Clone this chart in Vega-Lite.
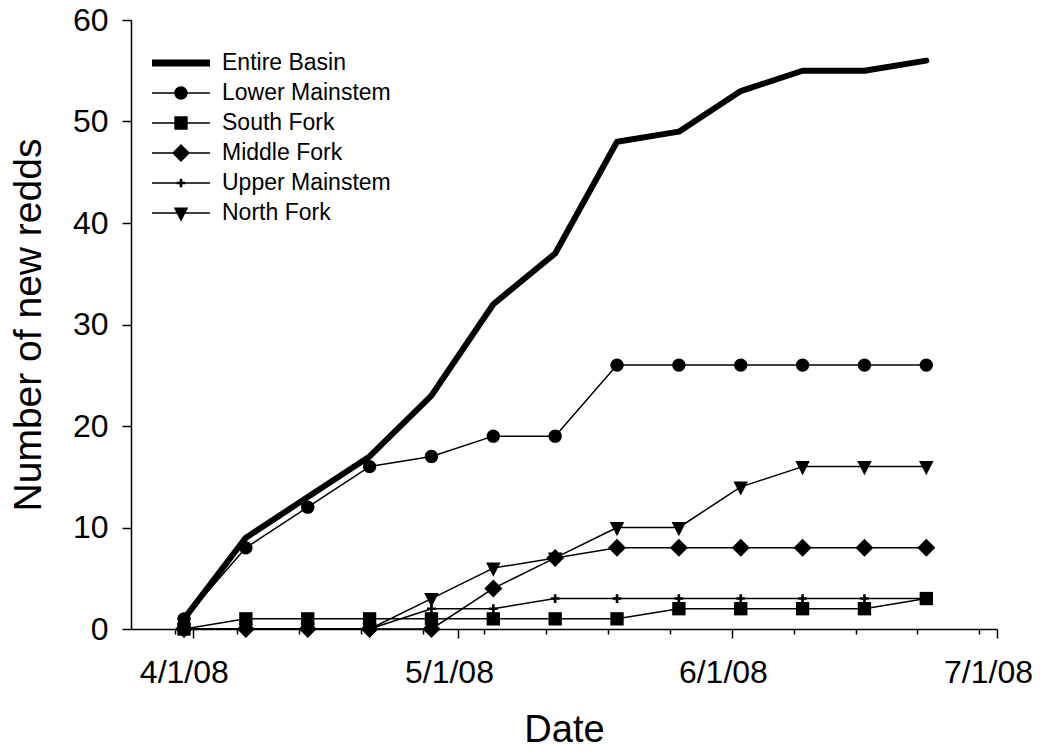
{
  "$schema": "https://vega.github.io/schema/vega-lite/v6.json",
  "width": 866,
  "height": 609,
  "autosize": {"type": "none"},
  "padding": {"left": 131, "top": 20, "right": 44, "bottom": 122},
  "background": "white",
  "config": {
    "view": {"stroke": null},
    "font": "Liberation Sans",
    "axis": {"labelFont": "Liberation Sans", "titleFont": "Liberation Sans", "labelColor": "black", "titleColor": "black", "domainColor": "black", "tickColor": "black", "titleFontWeight": "normal", "grid": false, "domainWidth": 1.5, "tickWidth": 1.5},
    "legend": {"labelFont": "Liberation Sans", "labelColor": "black"}
  },
  "data": {
    "values": [
      {"date": "2008-03-31", "series": "Entire Basin", "value": 1},
      {"date": "2008-04-07", "series": "Entire Basin", "value": 9},
      {"date": "2008-04-14", "series": "Entire Basin", "value": 13},
      {"date": "2008-04-21", "series": "Entire Basin", "value": 17},
      {"date": "2008-04-28", "series": "Entire Basin", "value": 23},
      {"date": "2008-05-05", "series": "Entire Basin", "value": 32},
      {"date": "2008-05-12", "series": "Entire Basin", "value": 37},
      {"date": "2008-05-19", "series": "Entire Basin", "value": 48},
      {"date": "2008-05-26", "series": "Entire Basin", "value": 49},
      {"date": "2008-06-02", "series": "Entire Basin", "value": 53},
      {"date": "2008-06-09", "series": "Entire Basin", "value": 55},
      {"date": "2008-06-16", "series": "Entire Basin", "value": 55},
      {"date": "2008-06-23", "series": "Entire Basin", "value": 56},
      {"date": "2008-03-31", "series": "Lower Mainstem", "value": 1},
      {"date": "2008-04-07", "series": "Lower Mainstem", "value": 8},
      {"date": "2008-04-14", "series": "Lower Mainstem", "value": 12},
      {"date": "2008-04-21", "series": "Lower Mainstem", "value": 16},
      {"date": "2008-04-28", "series": "Lower Mainstem", "value": 17},
      {"date": "2008-05-05", "series": "Lower Mainstem", "value": 19},
      {"date": "2008-05-12", "series": "Lower Mainstem", "value": 19},
      {"date": "2008-05-19", "series": "Lower Mainstem", "value": 26},
      {"date": "2008-05-26", "series": "Lower Mainstem", "value": 26},
      {"date": "2008-06-02", "series": "Lower Mainstem", "value": 26},
      {"date": "2008-06-09", "series": "Lower Mainstem", "value": 26},
      {"date": "2008-06-16", "series": "Lower Mainstem", "value": 26},
      {"date": "2008-06-23", "series": "Lower Mainstem", "value": 26},
      {"date": "2008-03-31", "series": "South Fork", "value": 0},
      {"date": "2008-04-07", "series": "South Fork", "value": 1},
      {"date": "2008-04-14", "series": "South Fork", "value": 1},
      {"date": "2008-04-21", "series": "South Fork", "value": 1},
      {"date": "2008-04-28", "series": "South Fork", "value": 1},
      {"date": "2008-05-05", "series": "South Fork", "value": 1},
      {"date": "2008-05-12", "series": "South Fork", "value": 1},
      {"date": "2008-05-19", "series": "South Fork", "value": 1},
      {"date": "2008-05-26", "series": "South Fork", "value": 2},
      {"date": "2008-06-02", "series": "South Fork", "value": 2},
      {"date": "2008-06-09", "series": "South Fork", "value": 2},
      {"date": "2008-06-16", "series": "South Fork", "value": 2},
      {"date": "2008-06-23", "series": "South Fork", "value": 3},
      {"date": "2008-03-31", "series": "Middle Fork", "value": 0},
      {"date": "2008-04-07", "series": "Middle Fork", "value": 0},
      {"date": "2008-04-14", "series": "Middle Fork", "value": 0},
      {"date": "2008-04-21", "series": "Middle Fork", "value": 0},
      {"date": "2008-04-28", "series": "Middle Fork", "value": 0},
      {"date": "2008-05-05", "series": "Middle Fork", "value": 4},
      {"date": "2008-05-12", "series": "Middle Fork", "value": 7},
      {"date": "2008-05-19", "series": "Middle Fork", "value": 8},
      {"date": "2008-05-26", "series": "Middle Fork", "value": 8},
      {"date": "2008-06-02", "series": "Middle Fork", "value": 8},
      {"date": "2008-06-09", "series": "Middle Fork", "value": 8},
      {"date": "2008-06-16", "series": "Middle Fork", "value": 8},
      {"date": "2008-06-23", "series": "Middle Fork", "value": 8},
      {"date": "2008-03-31", "series": "Upper Mainstem", "value": 0},
      {"date": "2008-04-07", "series": "Upper Mainstem", "value": 0},
      {"date": "2008-04-14", "series": "Upper Mainstem", "value": 0},
      {"date": "2008-04-21", "series": "Upper Mainstem", "value": 0},
      {"date": "2008-04-28", "series": "Upper Mainstem", "value": 2},
      {"date": "2008-05-05", "series": "Upper Mainstem", "value": 2},
      {"date": "2008-05-12", "series": "Upper Mainstem", "value": 3},
      {"date": "2008-05-19", "series": "Upper Mainstem", "value": 3},
      {"date": "2008-05-26", "series": "Upper Mainstem", "value": 3},
      {"date": "2008-06-02", "series": "Upper Mainstem", "value": 3},
      {"date": "2008-06-09", "series": "Upper Mainstem", "value": 3},
      {"date": "2008-06-16", "series": "Upper Mainstem", "value": 3},
      {"date": "2008-06-23", "series": "Upper Mainstem", "value": 3},
      {"date": "2008-03-31", "series": "North Fork", "value": 0},
      {"date": "2008-04-07", "series": "North Fork", "value": 0},
      {"date": "2008-04-14", "series": "North Fork", "value": 0},
      {"date": "2008-04-21", "series": "North Fork", "value": 0},
      {"date": "2008-04-28", "series": "North Fork", "value": 3},
      {"date": "2008-05-05", "series": "North Fork", "value": 6},
      {"date": "2008-05-12", "series": "North Fork", "value": 7},
      {"date": "2008-05-19", "series": "North Fork", "value": 10},
      {"date": "2008-05-26", "series": "North Fork", "value": 10},
      {"date": "2008-06-02", "series": "North Fork", "value": 14},
      {"date": "2008-06-09", "series": "North Fork", "value": 16},
      {"date": "2008-06-16", "series": "North Fork", "value": 16},
      {"date": "2008-06-23", "series": "North Fork", "value": 16}
    ],
    "format": {"parse": {"date": "date:'%Y-%m-%d'"}}
  },
  "encoding": {
    "x": {
      "field": "date",
      "type": "temporal",
      "scale": {"domain": [{"year": 2008, "month": 3, "date": 25}, {"year": 2008, "month": 7, "date": 1}], "nice": false},
      "axis": {
        "title": "Date",
        "titleFontSize": 38,
        "titlePadding": 23,
        "labelFontSize": 32,
        "labelPadding": 19,
        "labelOffset": -9,
        "labelFlush": false,
        "labelOverlap": false,
        "values": [
          {"year": 2008, "month": 3, "date": 30},
          {"year": 2008, "month": 4, "date": 1},
          {"year": 2008, "month": 4, "date": 6},
          {"year": 2008, "month": 4, "date": 13},
          {"year": 2008, "month": 4, "date": 20},
          {"year": 2008, "month": 4, "date": 27},
          {"year": 2008, "month": 5, "date": 1},
          {"year": 2008, "month": 5, "date": 4},
          {"year": 2008, "month": 5, "date": 11},
          {"year": 2008, "month": 5, "date": 18},
          {"year": 2008, "month": 5, "date": 25},
          {"year": 2008, "month": 6, "date": 1},
          {"year": 2008, "month": 6, "date": 8},
          {"year": 2008, "month": 6, "date": 15},
          {"year": 2008, "month": 6, "date": 22},
          {"year": 2008, "month": 6, "date": 29},
          {"year": 2008, "month": 7, "date": 1}
        ],
        "labelExpr": "date(datum.value) == 1 ? timeFormat(datum.value, '%-m/%-d/%y') : ''",
        "tickSize": {"condition": {"test": "date(datum.value) == 1", "value": 9}, "value": 5}
      }
    },
    "y": {
      "field": "value",
      "type": "quantitative",
      "scale": {"domain": [0, 60], "nice": false},
      "axis": {
        "title": "Number of new redds",
        "titleFontSize": 39,
        "titlePadding": 24,
        "labelFontSize": 32,
        "labelPadding": 14,
        "values": [0, 10, 20, 30, 40, 50, 60],
        "tickSize": 9
      }
    }
  },
  "layer": [
    {
      "mark": {"type": "line", "color": "black", "strokeCap": "round", "strokeJoin": "round"},
      "encoding": {
        "detail": {"field": "series"},
        "strokeWidth": {
          "field": "series",
          "scale": {"type": "ordinal", "domain": ["Entire Basin", "Lower Mainstem", "South Fork", "Middle Fork", "Upper Mainstem", "North Fork"], "range": [6, 1.5, 1.5, 1.5, 1.5, 1.5]},
          "legend": null
        }
      }
    },
    {
      "transform": [{"filter": "datum.series != 'Entire Basin'"}],
      "mark": {"type": "point", "filled": true, "color": "black", "size": 3364, "opacity": 1},
      "encoding": {
        "shape": {
          "field": "series",
          "scale": {
            "domain": ["Lower Mainstem", "South Fork", "Middle Fork", "Upper Mainstem", "North Fork"],
            "range": [
              "M0.23,0C0.23,0.127 0.127,0.23 0,0.23C-0.127,0.23 -0.23,0.127 -0.23,0C-0.23,-0.127 -0.127,-0.23 0,-0.23C0.127,-0.23 0.23,-0.127 0.23,0Z",
              "M-0.23,-0.23H0.23V0.23H-0.23Z",
              "M0,-0.31L0.31,0L0,0.31L-0.31,0Z",
              "M-0.15,-0.045H-0.045V-0.15H0.045V-0.045H0.15V0.045H0.045V0.15H-0.045V0.045H-0.15Z",
              "M-0.25,-0.19H0.25L0,0.3Z"
            ]
          },
          "legend": null
        }
      }
    },
    {
      "mark": {"type": "point", "filled": true, "color": "black", "size": 0},
      "encoding": {
        "shape": {
          "field": "series",
          "scale": {
            "domain": ["Entire Basin", "Lower Mainstem", "South Fork", "Middle Fork", "Upper Mainstem", "North Fork"],
            "range": [
              "M-1,-0.12H1V0.12H-1Z",
              "M-1,-0.028H1V0.028H-1ZM0.23,0C0.23,0.127 0.127,0.23 0,0.23C-0.127,0.23 -0.23,0.127 -0.23,0C-0.23,-0.127 -0.127,-0.23 0,-0.23C0.127,-0.23 0.23,-0.127 0.23,0Z",
              "M-1,-0.028H1V0.028H-1ZM-0.23,-0.23H0.23V0.23H-0.23Z",
              "M-1,-0.028H1V0.028H-1ZM0,-0.31L0.31,0L0,0.31L-0.31,0Z",
              "M-1,-0.028H1V0.028H-1ZM-0.15,-0.045H-0.045V-0.15H0.045V-0.045H0.15V0.045H0.045V0.15H-0.045V0.045H-0.15Z",
              "M-1,-0.028H1V0.028H-1ZM-0.25,-0.19H0.25L0,0.3Z"
            ]
          },
          "legend": {
            "title": null,
            "orient": "none",
            "legendX": 21,
            "legendY": 28,
            "padding": 0,
            "labelFontSize": 23,
            "labelOffset": 12,
            "labelLimit": 400,
            "symbolSize": 3364,
            "clipHeight": 30,
            "rowPadding": 0,
            "symbolFillColor": "black",
            "symbolStrokeColor": "black",
            "symbolStrokeWidth": 0,
            "symbolOpacity": 1
          }
        }
      }
    }
  ],
  "resolve": {"scale": {"shape": "independent"}, "legend": {"shape": "independent"}}
}
